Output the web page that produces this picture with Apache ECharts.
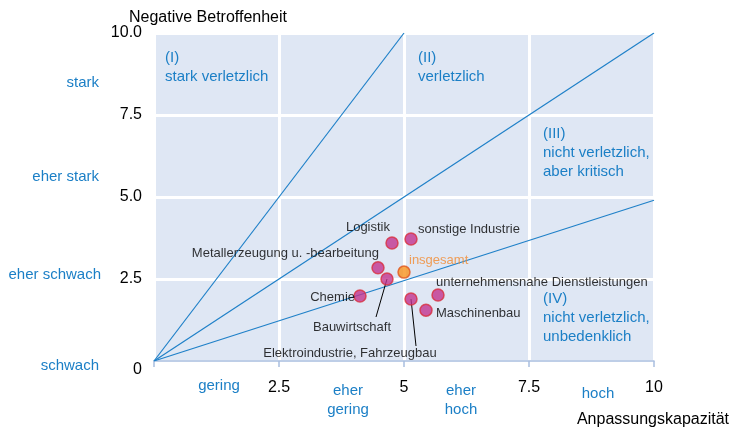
<!DOCTYPE html>
<html>
<head>
<meta charset="utf-8">
<script src="https://cdn.jsdelivr.net/npm/echarts@6/dist/echarts.min.js"></script>
<style>
html,body{margin:0;padding:0;background:#fff;}
#c{width:733px;height:432px;}
</style>
</head>
<body>
<div id="c"></div>
<script>
// ---- data ----
var names = ['Logistik','sonstige Industrie','Metallerzeugung u. -bearbeitung','insgesamt','Bauwirtschaft','Chemie','Elektroindustrie, Fahrzeugbau','unternehmensnahe Dienstleistungen','Maschinenbau'];
var xValues = [4.76, 5.14, 4.48, 5.00, 4.66, 4.12, 5.14, 5.68, 5.44];
var yValues = [3.60, 3.72, 2.84, 2.71, 2.50, 1.98, 1.89, 2.01, 1.55];
var refLineEnds = [[5, 10], [10, 10], [10, 4.9]];
var xTickLabels = {2.5: '2.5', 5: '5', 7.5: '7.5', 10: '10'};
var yTickLabels = {0: '{z|0}', 2.5: '2.5', 5: '5.0', 7.5: '7.5', 10: '10.0'};

var FONT = '"Liberation Sans", Arial, sans-serif';
var BLUE = '#1b7fc6';
var LINE_BLUE = '#1f80c8';

// label placement (style only, pixel offsets from the point)
var labelCfg = {
  'Logistik': {align: 'right', offset: [-2, -15]},
  'sonstige Industrie': {align: 'left', offset: [7, -10]},
  'Metallerzeugung u. -bearbeitung': {align: 'right', offset: [1, -14]},
  'insgesamt': {align: 'left', offset: [5, -12], color: '#f28a2e'},
  'Bauwirtschaft': {align: 'center', offset: [-35, 48], leader: [-11, 38]},
  'Chemie': {align: 'right', offset: [-5, 1]},
  'Elektroindustrie, Fahrzeugbau': {align: 'center', offset: [-61, 54], leader: [5, 47]},
  'unternehmensnahe Dienstleistungen': {align: 'left', offset: [-2, -13]},
  'Maschinenbau': {align: 'left', offset: [10, 3]}
};

var scatterData = names.map(function (n, i) {
  var c = labelCfg[n];
  var isTotal = n === 'insgesamt';
  return {
    name: n,
    value: [xValues[i], yValues[i]],
    itemStyle: isTotal ? {color: '#f7921e', borderColor: '#e0561f', borderWidth: 1.5}
                       : {color: '#c2348f', borderColor: '#d8303f', borderWidth: 1.5},
    label: {
      show: true,
      formatter: n,
      position: 'inside',
      align: c.align,
      verticalAlign: 'middle',
      offset: c.offset,
      color: c.color || '#000',
      textBorderWidth: 0,
      fontSize: 13,
      fontFamily: FONT
    }
  };
});

var lineSeries = refLineEnds.map(function (e) {
  return {
    type: 'line',
    data: [[0, 0], e],
    symbol: 'none',
    silent: true,
    lineStyle: {color: LINE_BLUE, width: 1.2},
    z: 3
  };
});

function t(text, x, y, opts) {
  opts = opts || {};
  return {
    type: 'text', x: x, y: y, silent: true,
    style: {
      text: text,
      fill: opts.fill || BLUE,
      font: (opts.size || 15) + 'px ' + FONT,
      align: opts.align || 'left',
      verticalAlign: opts.va || 'middle',
      lineHeight: opts.lh || 19
    }
  };
}

var graphics = [
  t('Negative Betroffenheit', 208, 18, {fill: '#000', align: 'center', size: 16}),
  t('Anpassungskapazität', 653, 420, {fill: '#000', align: 'center', size: 16}),
  t('stark', 99, 83, {align: 'right'}),
  t('eher stark', 99, 177, {align: 'right'}),
  t('eher schwach', 101, 275, {align: 'right'}),
  t('schwach', 99, 366, {align: 'right'}),
  t('gering', 219, 386, {align: 'center'}),
  t('eher\ngering', 348, 400, {align: 'center'}),
  t('eher\nhoch', 461, 400, {align: 'center'}),
  t('hoch', 598, 394, {align: 'center'}),
  t('(I)\nstark verletzlich', 165, 67, {}),
  t('(II)\nverletzlich', 418, 67, {}),
  t('(III)\nnicht verletzlich,\naber kritisch', 543, 153, {}),
  t('(IV)\nnicht verletzlich,\nunbedenklich', 543, 318, {})
];

var chart = echarts.init(document.getElementById('c'));
var option = {
  animation: false,
  backgroundColor: '#fff',
  grid: {left: 154, right: 79, top: 33, bottom: 71, show: true, backgroundColor: '#dfe7f4', borderWidth: 0},
  xAxis: {
    type: 'value', min: 0, max: 10, interval: 2.5,
    axisLine: {show: true, lineStyle: {color: '#a9bee0', width: 1.5}},
    axisTick: {show: true, length: 6, lineStyle: {color: '#a9bee0', width: 1.5}},
    splitLine: {show: true, lineStyle: {color: '#ffffff', width: 3}},
    axisLabel: {
      margin: 19, color: '#000', fontSize: 16, fontFamily: FONT,
      formatter: function (v) { return xTickLabels[v] || ''; }
    }
  },
  yAxis: {
    type: 'value', min: 0, max: 10, interval: 2.5,
    axisLine: {show: false},
    axisTick: {show: false},
    splitLine: {show: true, lineStyle: {color: '#ffffff', width: 3}},
    axisLabel: {
      margin: 12, color: '#000', fontSize: 16, fontFamily: FONT,
      formatter: function (v) { return yTickLabels[v] || ''; },
      rich: {z: {fontSize: 16, fontFamily: FONT, color: '#000', padding: [18, 0, 0, 0]}}
    }
  },
  series: lineSeries.concat([{
    type: 'scatter',
    symbolSize: 12,
    data: scatterData,
    z: 5
  }]),
  graphic: graphics
};
chart.setOption(option);

// leader lines for moved labels, anchored to the data points via the chart's scales
var leaders = [];
names.forEach(function (n, i) {
  var c = labelCfg[n];
  if (!c.leader) return;
  var p = chart.convertToPixel({seriesIndex: 3}, [xValues[i], yValues[i]]);
  leaders.push({
    type: 'line', silent: true, z: 4,
    shape: {x1: p[0], y1: p[1], x2: p[0] + c.leader[0], y2: p[1] + c.leader[1]},
    style: {stroke: '#000', lineWidth: 1}
  });
});
chart.setOption({graphic: graphics.concat(leaders)});
</script>
</body>
</html>
